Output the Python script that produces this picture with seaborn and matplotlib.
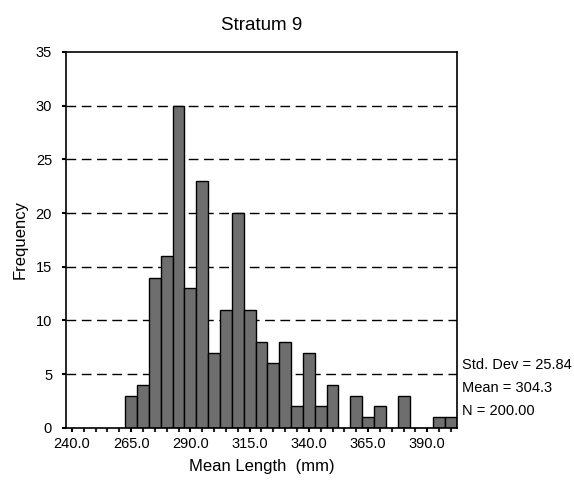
import numpy as np
import matplotlib
matplotlib.use("Agg")
import matplotlib.pyplot as plt
import seaborn as sns

# bin midpoints (mm) and counts
bin_centers = [265, 270, 275, 280, 285, 290, 295, 300, 305, 310, 315, 320, 325, 330,
               335, 340, 345, 350, 355, 360, 365, 370, 375, 380, 385, 390, 395, 400]
counts = [3, 4, 14, 16, 30, 13, 23, 7, 11, 20, 11, 8, 6, 8,
          2, 7, 2, 4, 0, 3, 1, 2, 0, 3, 0, 0, 1, 1]
x_ticks = [240, 265, 290, 315, 340, 365, 390]
y_ticks = [0, 5, 10, 15, 20, 25, 30, 35]
stats_text = ["Std. Dev = 25.84", "Mean = 304.3", "N = 200.00"]

sns.set_style("white")
plt.rcParams['font.family'] = ['Liberation Sans', 'DejaVu Sans']
plt.rcParams['text.color'] = 'black'
plt.rcParams['axes.labelcolor'] = 'black'

fig = plt.figure(figsize=(5.74, 5.04), dpi=100)
ax = fig.add_axes([0.115, 0.151, 0.681, 0.746])

# dashed grid behind the bars
for y in y_ticks[1:-1]:
    ax.axhline(y, color='black', linestyle=(0, (7, 4)), linewidth=1.0, zorder=0)

sns.histplot(x=bin_centers, weights=counts, binwidth=5, binrange=(262.5, 402.5),
             color='#6e6e6e', edgecolor='black', linewidth=1.0, alpha=1.0, ax=ax, zorder=2)

ax.set_xlim(237.5, 402.5)
ax.set_ylim(0, 35)
ax.set_xticks(x_ticks)
ax.set_xticklabels([f"{t:.1f}" for t in x_ticks])
ax.set_xticks(np.arange(240, 401, 5), minor=True)
ax.set_yticks(y_ticks)

ax.tick_params(axis='both', which='major', direction='out', length=3, width=1.5,
               labelsize=10.5, colors='black', bottom=True, left=True)
ax.tick_params(axis='y', pad=7)
ax.tick_params(axis='x', which='minor', direction='out', length=3, width=1.5, bottom=True)
for s in ax.spines.values():
    s.set_color('black')
    s.set_linewidth(1.2)

ax.set_title("Stratum 9", fontsize=13.5, pad=16, color='black')
ax.set_xlabel("Mean Length  (mm)", fontsize=12, labelpad=6)
ax.set_ylabel("Frequency", fontsize=12, labelpad=6)

for i, t in enumerate(stats_text):
    fig.text(0.805, 0.275 - i * 0.045, t, fontsize=10.5, va='center', ha='left', color='black')

fig.savefig("out.png", dpi=100)
